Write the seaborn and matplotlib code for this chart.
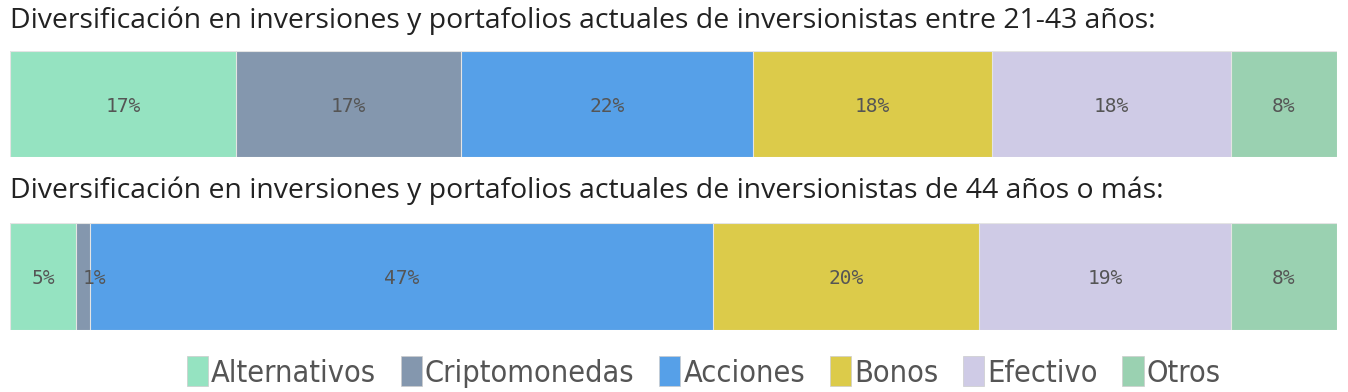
import matplotlib
matplotlib.use("Agg")
import matplotlib.pyplot as plt
import seaborn as sns
import pandas as pd
import numpy as np
from matplotlib.patches import Patch

categories = ["Alternativos", "Criptomonedas", "Acciones", "Bonos", "Efectivo", "Otros"]
colors = ["#95E3C1", "#8497AE", "#56A0E8", "#DCCB4A", "#CFCBE6", "#9AD1B1"]
young = [17, 17, 22, 18, 18, 8]
older = [5, 1, 47, 20, 19, 8]
titles = [
    "Diversificación en inversiones y portafolios actuales de inversionistas entre 21-43 años:",
    "Diversificación en inversiones y portafolios actuales de inversionistas de 44 años o más:",
]

sns.set_theme(style="white")
plt.rcParams["font.family"] = ["Open Sans", "DejaVu Sans"]

fig = plt.figure(figsize=(13.48, 3.92), dpi=100)
axes_pos = [
    [10 / 1348, 1 - 157 / 392, 1327 / 1348, 106 / 392],
    [10 / 1348, 1 - 330 / 392, 1327 / 1348, 107 / 392],
]
title_y = [1 - 21 / 392, 1 - 191 / 392]

for row, (vals, pos, ty, title) in enumerate(zip([young, older], axes_pos, title_y, titles)):
    ax = fig.add_axes(pos)
    cum = np.cumsum(vals)
    df = pd.DataFrame({"cat": categories, "end": cum, "start": cum - np.array(vals),
                       "val": vals, "row": [0] * len(vals)})
    for i in range(len(categories) - 1, -1, -1):
        sns.barplot(data=df.iloc[[i]], x="end", y="row", orient="h", color=colors[i],
                    width=1.0, ax=ax, saturation=1, edgecolor="#E4E4E4", linewidth=0.8)
    for i, r in df.iterrows():
        center = (r["start"] + r["end"]) / 2
        ha = "left" if r["val"] < 3 else "center"
        ax.text(center, 0.02, "%d%%" % r["val"], ha=ha, va="center",
                family="DejaVu Sans Mono", fontsize=14, color="#555555")
    ax.set_xlim(0, 100)
    ax.set_ylim(0.5, -0.5)
    ax.axis("off")
    fig.text(10 / 1348, ty, title, ha="left", va="center", fontsize=20.4, color="#222222")

handles = [Patch(facecolor=c, edgecolor="#CCCCCC", linewidth=0.5) for c in colors]
fig.legend(handles, categories, loc="center", bbox_to_anchor=(0.522, 1 - 372 / 392), ncol=6,
           frameon=False, handlelength=0.7, handleheight=1.1, handletextpad=0.1,
           columnspacing=0.8, labelcolor="#555555",
           prop={"family": ["DejaVu Sans"], "stretch": "condensed", "size": 22})

fig.savefig("out.png", dpi=100)
